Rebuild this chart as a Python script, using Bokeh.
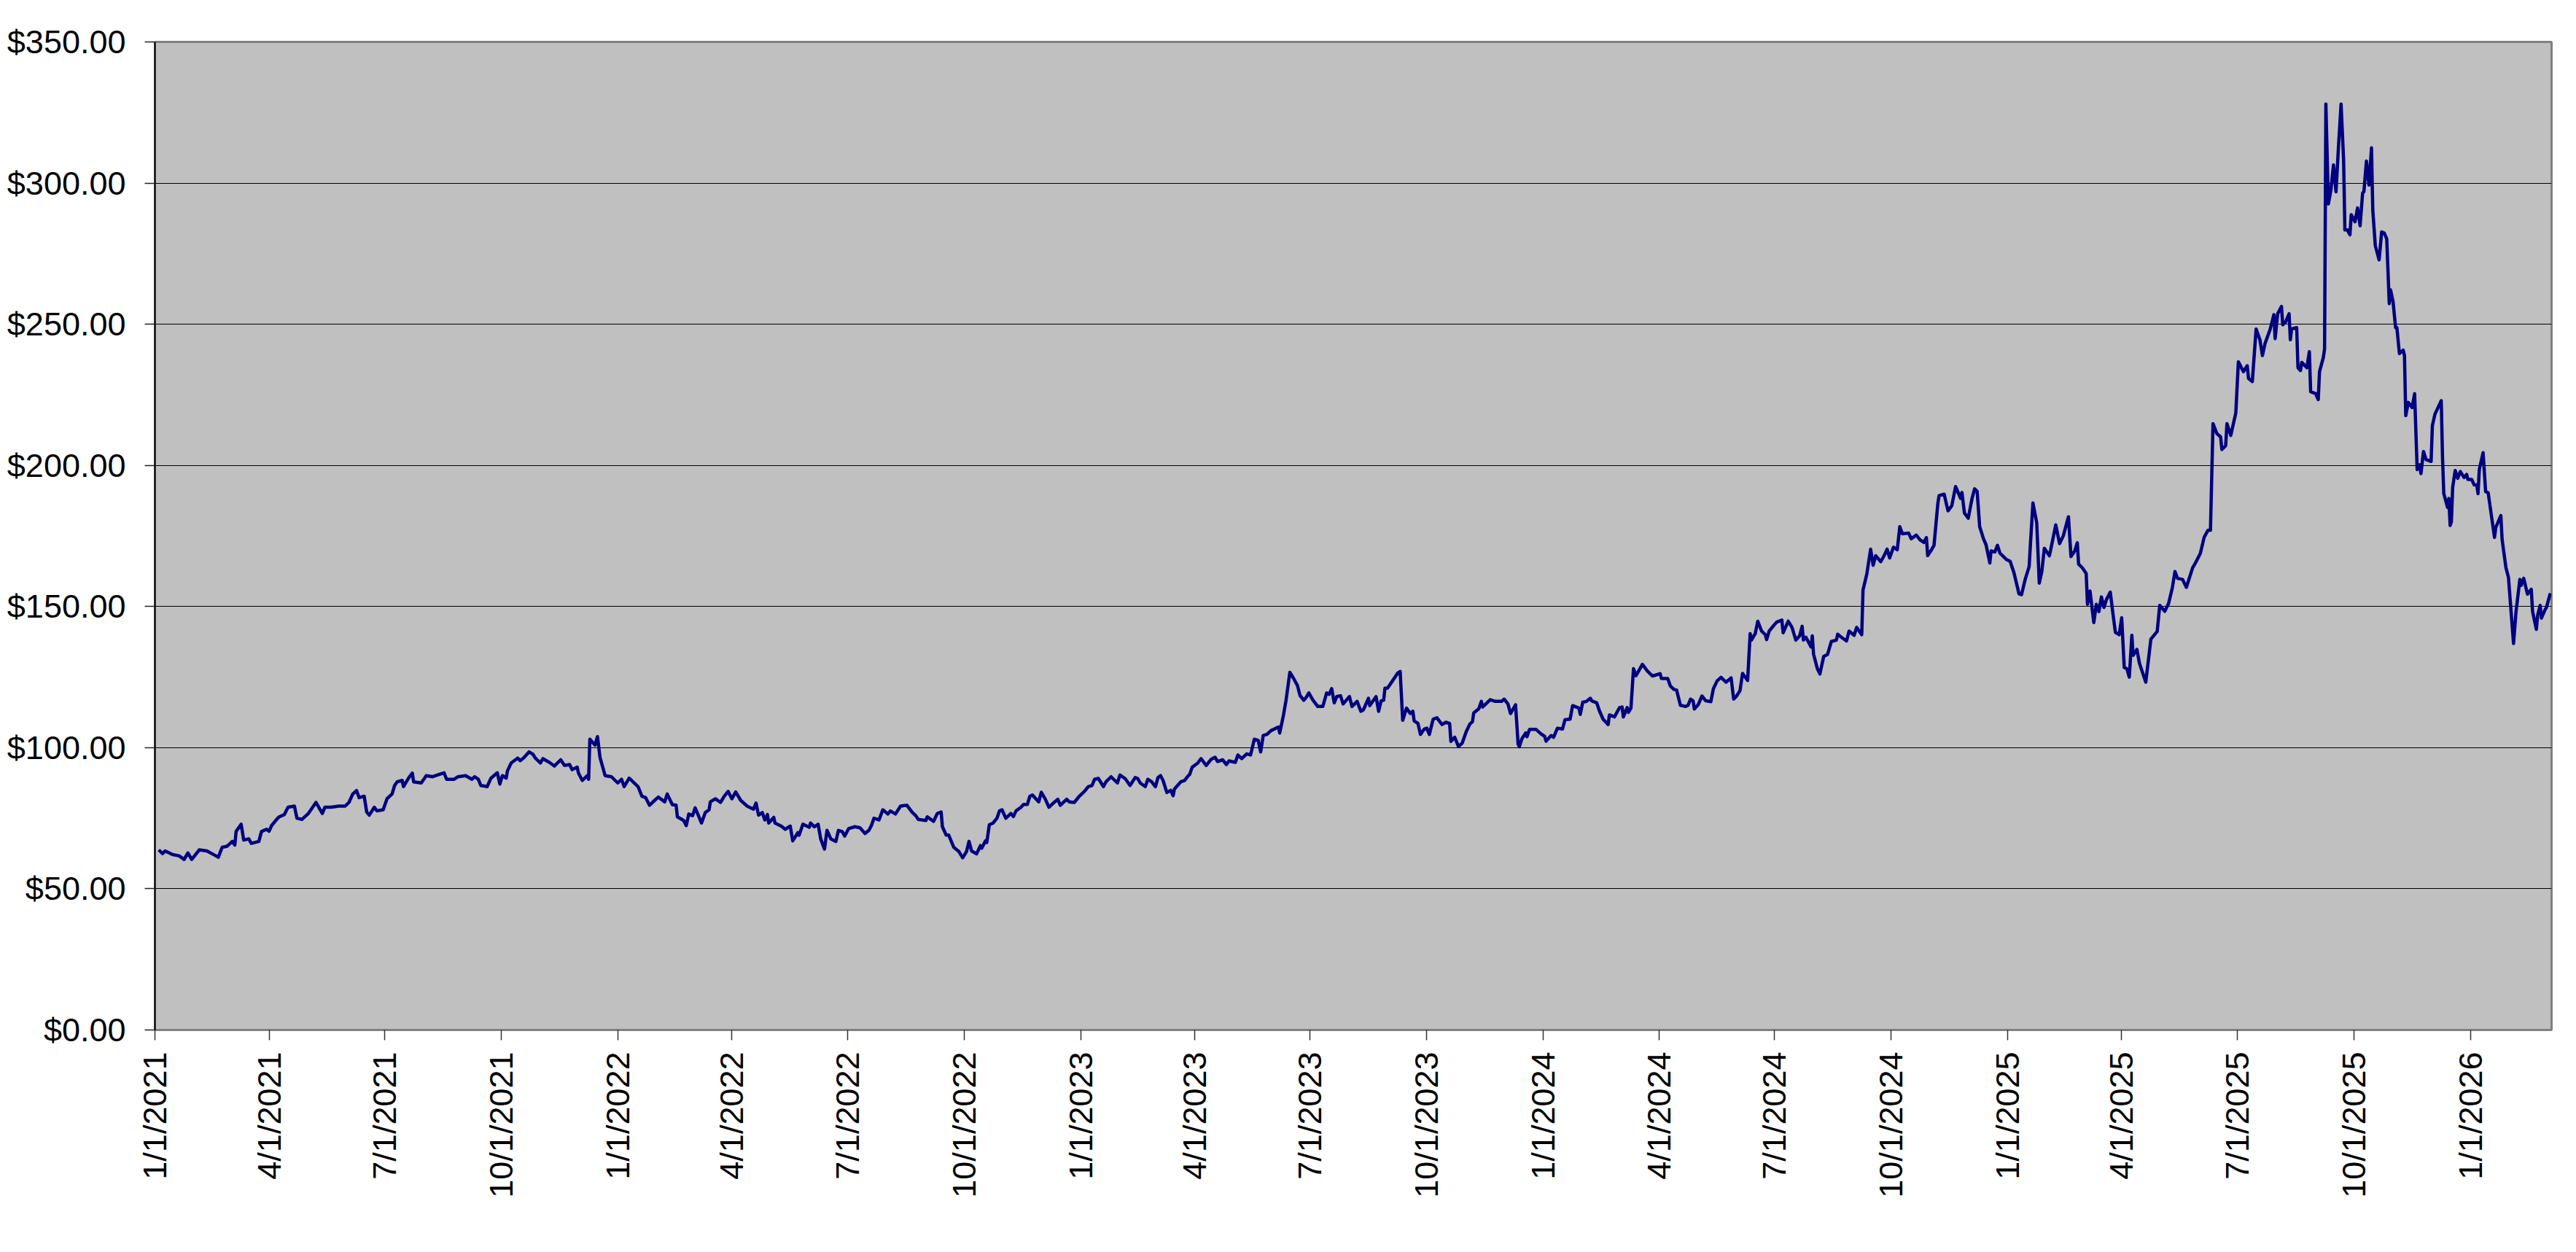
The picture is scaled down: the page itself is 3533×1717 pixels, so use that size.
import math
import datetime as dt
from bokeh.plotting import figure
from bokeh.models import FixedTicker, NumeralTickFormatter, Range1d, ColumnDataSource
from bokeh.embed import file_html
from bokeh.resources import INLINE

# ---------------- data ----------------
start_date = dt.date(2021, 1, 1)

# days after 1/1/2021
day_offsets = [
    3, 6, 8, 14, 19, 23, 26, 29, 35, 41, 48, 50, 53, 57, 61, 63, 64, 68, 70, 74, 76, 82, 84, 88, 90, 92, 96, 98,
    102, 105, 110, 112, 116, 121, 127, 132, 134, 139, 145, 150, 153, 156, 159, 161, 165, 167, 169, 173, 175, 180,
    183, 187, 189, 191, 195, 196, 200, 203, 204, 210, 214, 219, 224, 228, 230, 236, 239, 245, 250, 252, 255, 257,
    262, 265, 270, 272, 274, 277, 278, 281, 286, 288, 291, 295, 298, 300, 304, 306, 311, 315, 320, 323, 327, 329,
    333, 334, 337, 341, 342, 343, 347, 349, 351, 355, 360, 365, 368, 370, 374, 381, 384,
    387, 390, 394, 397, 402, 404, 408, 411, 412, 417, 419, 421, 424, 426, 429, 431, 434, 437, 438, 442, 446, 449,
    452, 455, 458, 462, 467, 472, 474, 476, 479, 481, 483, 484, 488, 489, 494, 497, 501, 503, 507, 508, 511, 516,
    517, 520, 523, 525, 528, 530, 533, 537, 539, 542, 544, 547, 552, 556, 560, 563, 565, 567, 571, 574, 578, 580,
    584, 588, 593, 597, 600, 602, 608, 609, 614, 617, 620, 621, 624, 626, 630, 634, 637, 640, 642, 644, 648, 651,
    652, 655, 656, 658, 661, 664, 666, 668, 671, 675, 677, 679, 683, 685, 688, 690, 692, 697, 699, 702, 705, 708,
    712, 714, 719, 721, 725, 729, 733, 736, 739, 741, 744, 748, 750, 754, 759, 761, 765, 769, 773,
    775, 777, 781, 783, 786, 789, 791, 793, 795, 798, 801, 803, 804, 809, 812, 815, 816, 818, 822, 825, 829, 833,
    836, 838, 842, 845, 847, 852, 854, 857, 861, 864, 867, 870, 872, 874, 877, 880, 884, 886, 887, 890, 892, 895,
    898, 901, 903, 906, 908, 910, 913, 917, 921, 924, 926, 928, 930, 932, 935, 937, 942, 944, 948, 951, 953, 957,
    958, 961, 963, 965, 967, 969, 970, 972, 976, 980, 982, 984, 987, 990, 992, 993, 996, 998, 1001, 1003, 1005,
    1008, 1011, 1015, 1018, 1021, 1022, 1025, 1028, 1031, 1034, 1037, 1039, 1040, 1044, 1046, 1047, 1053, 1057,
    1062, 1064, 1067, 1069, 1073, 1075, 1076, 1078, 1081, 1082, 1084, 1089, 1093, 1096, 1097, 1101, 1103, 1106,
    1110, 1112, 1116, 1118, 1123, 1124, 1126, 1129, 1132, 1133, 1137, 1139, 1142, 1146, 1147, 1151, 1155, 1157,
    1158, 1161, 1162, 1164,
    1166, 1168, 1173, 1177, 1181, 1184, 1187, 1188, 1193, 1195, 1198, 1200, 1203, 1207, 1209, 1211, 1213, 1214,
    1217, 1220, 1223, 1227, 1229, 1232, 1235, 1239, 1243, 1245, 1247, 1250, 1252, 1256, 1258, 1259, 1262, 1264,
    1267, 1270, 1271, 1273, 1277, 1279, 1283, 1284, 1288, 1291, 1294, 1297, 1299, 1300, 1302, 1306, 1307, 1308,
    1311, 1313, 1316, 1319, 1322, 1326, 1327, 1330, 1334, 1336, 1340, 1342, 1346, 1347, 1350, 1353, 1355, 1357,
    1361, 1364, 1366, 1368, 1371, 1374, 1376, 1378, 1383, 1385, 1389, 1392, 1395, 1397, 1398, 1401, 1403, 1406,
    1407, 1411, 1414, 1417, 1420, 1424, 1425, 1427, 1430, 1433, 1435, 1437, 1439, 1442, 1444, 1447, 1448, 1451,
    1453, 1455, 1460, 1463, 1466, 1470, 1472, 1475, 1478, 1479, 1481, 1484, 1486, 1488, 1490, 1494, 1496, 1499,
    1502, 1505, 1509, 1511, 1514, 1516, 1517, 1520, 1523, 1524, 1526, 1529, 1531, 1533, 1535, 1537, 1539, 1542,
    1544, 1546, 1549, 1551, 1553, 1555,
    1557, 1559, 1560, 1563, 1565, 1570, 1574, 1579, 1581, 1585, 1588, 1591, 1593, 1595, 1599, 1602, 1607, 1609,
    1613, 1616, 1619, 1621, 1623, 1626, 1629, 1630, 1633, 1634, 1637, 1641, 1643, 1647, 1650, 1651, 1654, 1657,
    1660, 1662, 1664, 1668, 1671, 1672, 1674, 1677, 1678, 1680, 1683, 1684, 1685, 1689, 1690, 1692, 1693, 1697,
    1699, 1700, 1704, 1706, 1707, 1710, 1711, 1712, 1714, 1716, 1718, 1720, 1722, 1724, 1726, 1727,
    1729, 1731, 1732, 1735, 1737, 1739, 1741, 1742, 1744, 1746, 1748, 1749, 1751, 1754, 1756, 1758, 1760, 1762,
    1763, 1765, 1767, 1768, 1770, 1773, 1774, 1775, 1777, 1780, 1782, 1784, 1786, 1787, 1789, 1791, 1795, 1796,
    1798, 1803, 1804, 1805, 1808, 1809, 1810, 1811, 1812, 1814, 1816, 1818, 1821, 1823, 1824, 1827, 1829, 1831,
    1832, 1833, 1836, 1838, 1840, 1843, 1845, 1846, 1850, 1851, 1854, 1856, 1860, 1862, 1865, 1866, 1868, 1871,
    1874, 1875, 1878, 1879, 1881, 1882, 1885, 1886, 1889,
]

prices = [
    63.8, 62.5, 63.4, 62.1, 61.7, 60.4, 62.7, 60.4, 63.8, 63.4, 61.7, 61.2, 64.7, 65.1, 66.8, 65.5, 70.3, 72.9,
    67.3, 67.7, 66.1, 66.8, 70.3, 71.1, 70.4, 72.4, 74.6, 75.5, 76.3, 78.9, 79.3, 75.0, 74.6, 76.7, 80.6, 76.7,
    78.9, 78.9, 79.3, 79.3, 80.6, 83.6, 84.8, 82.3, 82.8, 77.2, 76.1, 78.9, 77.6, 78.0, 81.9, 83.6, 86.6, 87.9,
    88.4, 86.2, 89.2, 91.0, 87.9, 87.5, 90.1, 89.7, 90.5, 91.1, 88.8, 88.8, 89.7, 90.1, 88.8, 89.7, 88.8, 86.6,
    86.2, 89.2, 91.1, 87.1, 90.1, 89.2, 91.8, 94.6, 96.3, 95.4, 96.5, 98.5, 97.7, 96.3, 94.6, 96.1, 94.8, 93.5,
    95.7, 93.7, 94.0, 92.2, 93.1, 91.0, 88.4, 90.1, 88.8, 103.0, 100.9, 103.9, 96.5, 90.1, 89.7, 87.5, 88.8,
    86.2, 89.2, 86.2, 82.8,
    82.3, 79.6, 81.3, 82.5, 80.8, 83.6, 79.8, 79.6, 75.5, 74.2, 72.4, 76.5, 75.9, 78.7, 75.5, 73.3, 77.0, 78.0,
    80.8, 81.9, 80.6, 82.8, 84.5, 81.9, 84.3, 81.3, 79.3, 78.2, 80.4, 76.1, 77.0, 74.4, 76.3, 73.3, 75.3, 73.3,
    72.2, 71.1, 72.2, 67.0, 69.9, 69.0, 72.9, 71.8, 73.3, 72.0, 72.9, 67.7, 64.1, 70.7, 67.7, 66.8, 70.7, 70.3,
    68.7, 71.3, 72.0, 71.6, 69.6, 70.7, 72.4, 75.0, 74.4, 78.0, 76.5, 77.6, 76.5, 79.3, 79.6, 77.2, 75.9, 74.6,
    74.2, 75.5, 73.9, 76.7, 77.2, 72.0, 69.0, 69.0, 64.7, 63.2, 61.0, 63.2, 66.8, 63.4, 62.4, 65.3, 64.4, 67.0,
    66.4, 72.7, 73.3, 75.0, 77.6, 78.0, 75.0, 76.7, 75.6, 77.6, 78.9, 79.9, 79.9, 82.8, 83.2, 80.8, 84.2, 81.9,
    78.9, 80.2, 81.7, 79.6, 81.7, 80.8, 80.6, 82.8, 84.5, 86.2, 86.6, 88.8, 89.1, 86.2, 87.9, 89.7, 87.5, 90.3,
    89.1, 86.6, 89.4,
    89.1, 87.5, 86.2, 88.8, 87.9, 86.2, 89.4, 90.1, 88.4, 84.1, 84.9, 83.0, 85.4, 87.9, 88.4, 90.1, 90.5, 93.1,
    94.4, 96.1, 93.7, 95.9, 96.6, 95.1, 95.7, 94.0, 95.3, 94.8, 97.4, 96.1, 97.8, 97.4, 103.0, 102.6, 98.5,
    104.3, 104.7, 106.0, 106.9, 107.3, 105.2, 111.6, 116.8, 126.7, 124.5, 122.0, 118.5, 116.8, 117.9, 119.4,
    117.0, 114.6, 114.6, 119.4, 118.9, 120.9, 115.9, 118.1, 118.4, 115.5, 118.1, 114.6, 116.4, 112.9, 113.4,
    117.5, 114.9, 116.8, 118.1, 112.9, 116.6, 116.8, 121.1, 121.1, 123.7, 126.4, 127.0, 109.7, 114.0, 112.1,
    112.9, 109.5, 108.6, 104.7, 106.6, 106.9, 104.7, 110.1, 110.6, 108.2, 109.0, 108.6, 102.2, 103.7, 100.4,
    101.7, 105.6, 108.4, 109.2, 112.3, 113.8, 116.4, 114.4, 117.0, 116.4, 116.4, 117.2, 115.5, 112.1, 115.2,
    101.3, 100.3, 103.2, 105.2, 103.9, 106.5, 106.5, 104.9, 104.0, 102.3, 104.3, 103.7, 106.9, 106.6, 109.9,
    110.1, 114.9, 114.0, 111.8, 116.1, 116.4, 117.5, 116.6, 115.9, 113.2, 110.1, 108.2, 111.6, 110.9, 114.2,
    114.4, 110.9, 114.2, 112.5, 114.0,
    128.0, 125.5, 129.5, 127.1, 125.4, 125.8, 126.2, 124.5, 124.5, 121.9, 120.6, 120.4, 115.0, 114.6, 115.0,
    117.2, 116.6, 113.7, 115.2, 118.3, 116.6, 116.3, 120.9, 123.7, 124.9, 123.2, 124.7, 117.2, 118.1, 120.2,
    126.3, 123.8, 140.4, 138.1, 140.4, 144.8, 141.3, 140.0, 138.3, 141.3, 143.5, 144.5, 145.2, 140.7, 144.8,
    142.6, 138.1, 139.6, 143.0, 138.1, 139.1, 135.7, 139.6, 133.1, 128.0, 126.1, 132.3, 133.0, 137.6, 138.1,
    140.2, 139.1, 137.8, 141.3, 139.8, 142.6, 140.0, 155.9, 161.5, 170.3, 164.6, 168.0, 165.9, 168.3, 170.3,
    167.2, 171.0, 170.1, 178.3, 175.8, 176.0, 174.0, 175.3, 173.6, 172.7, 174.4, 168.0, 170.1, 171.7, 186.5,
    189.3, 189.8, 183.9, 185.7, 192.5, 188.3, 190.4, 183.1, 181.3, 188.3, 191.7, 190.8, 178.3, 174.0, 171.9,
    165.4, 169.7, 169.3, 171.7, 168.9, 166.7, 166.0, 162.0, 154.5, 154.2, 159.8, 164.1, 171.9, 186.7, 179.6,
    158.3, 162.4, 170.6, 168.0, 172.3, 178.9, 172.3, 175.1, 181.8, 167.7, 169.7, 172.6, 165.0, 163.7, 161.7,
    150.8, 155.5, 144.3, 150.8, 148.2, 153.4, 149.7, 152.5, 155.1, 147.8, 140.9, 140.0, 146.0, 128.4, 128.0,
    125.0, 139.8, 132.7, 134.8, 129.9, 123.2, 138.4, 141.2, 150.4, 148.3, 151.1, 156.8, 162.4, 160.0, 159.6,
    156.8, 163.8, 165.3, 168.8, 174.5, 177.0, 177.0, 214.8, 211.3, 210.1, 205.6, 207.0, 214.8, 210.6, 218.6,
    236.7, 233.2, 235.3, 230.8, 229.7, 248.3, 244.5, 238.9, 243.1, 248.1, 253.4, 244.9, 253.7, 256.3, 249.8,
    250.6, 253.7, 244.5, 248.3, 248.8, 234.6, 233.6, 236.5, 234.6, 240.3, 226.1, 225.4, 223.3, 233.2, 238.2,
    241.3, 328.0, 292.6, 297.6, 306.4, 296.9, 313.2, 328.0, 308.2, 283.4,
    283.4, 281.7, 288.8, 286.3, 291.2, 284.9, 296.5, 296.9, 307.8, 299.3, 312.5, 290.5, 277.8, 272.8, 282.7,
    282.3, 280.3, 257.3, 262.2, 258.0, 248.8, 248.8, 239.6, 240.8, 238.9, 217.6, 222.3, 220.5, 225.4, 198.5,
    200.2, 197.1, 204.9, 202.1, 201.4, 214.1, 218.1, 222.9, 202.8, 190.0, 185.1, 188.3, 178.7, 180.1, 192.2,
    198.2, 195.4, 197.8, 195.7, 196.8, 195.0, 195.0, 193.1, 193.1, 190.0, 198.5, 204.5, 190.7, 190.3, 180.8,
    174.5, 178.0, 182.2, 173.7, 163.8, 160.3, 136.9, 148.3, 159.6, 157.5, 160.0, 154.4, 156.1, 148.3, 141.9,
    146.9, 150.4, 145.9, 149.0, 149.7, 154.7,
]

# quarterly date ticks
tick_dates = [dt.date(y, m, 1) for y in range(2021, 2026) for m in (1, 4, 7, 10)] + [dt.date(2026, 1, 1)]
y_ticks = [0, 50, 100, 150, 200, 250, 300, 350]
x_end_day = 1890
y_max = 350

# ---------------- figure ----------------
FONT = "Liberation Sans"

p = figure(
    frame_width=3287, frame_height=1355,
    min_border_left=212, min_border_right=27, min_border_top=57, min_border_bottom=286,
    x_range=Range1d(0, x_end_day), y_range=Range1d(0, y_max),
    output_backend="svg", toolbar_location=None, tools="",
)
p.background_fill_color = "#C0C0C0"
p.border_fill_color = "white"
p.outline_line_color = "#808080"
p.outline_line_width = 3

src = ColumnDataSource(dict(day=day_offsets, price=prices))
p.line("day", "price", source=src, line_color="#000080", line_width=4.5, line_join="round")

tick_days = [(d - start_date).days for d in tick_dates]
p.xaxis.ticker = FixedTicker(ticks=tick_days, minor_ticks=[])
p.xaxis.major_label_overrides = {td: f"{d.month}/{d.day}/{d.year}" for td, d in zip(tick_days, tick_dates)}
p.xaxis.major_label_orientation = math.pi / 2
p.xaxis.axis_line_color = "#808080"
p.xaxis.axis_line_width = 3
p.xaxis.major_tick_line_color = "#333333"
p.xaxis.major_tick_line_width = 1.5
p.xaxis.major_tick_out = 14
p.xaxis.major_tick_in = 0
p.xaxis.major_label_standoff = 16

p.yaxis.ticker = FixedTicker(ticks=y_ticks, minor_ticks=[])
p.yaxis.formatter = NumeralTickFormatter(format="$0.00")
p.yaxis.axis_line_color = "black"
p.yaxis.axis_line_width = 2
p.yaxis.major_tick_line_color = "#222222"
p.yaxis.major_tick_line_width = 1.5
p.yaxis.major_tick_out = 14
p.yaxis.major_tick_in = 0
p.yaxis.major_label_standoff = 26

for ax in (p.xaxis, p.yaxis):
    ax.major_label_text_font = FONT
    ax.major_label_text_font_size = "45px"
    ax.major_label_text_color = "black"
    ax.minor_tick_line_color = None

p.xgrid.grid_line_color = None
p.ygrid.ticker = FixedTicker(ticks=y_ticks)
p.ygrid.grid_line_color = "black"
p.ygrid.grid_line_width = 1.2

open("out.html", "w").write(file_html(p, INLINE))
